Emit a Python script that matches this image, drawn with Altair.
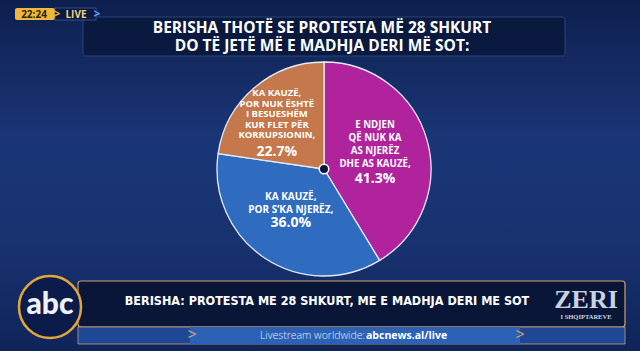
import altair as alt
import pandas as pd

W, H = 640, 351
CX, CY, R = 324, 169, 107

# ---- data ----
categories = [
    "E NDJEN QË NUK KA AS NJERËZ DHE AS KAUZË",
    "KA KAUZË, POR S’KA NJERËZ",
    "KA KAUZË, POR NUK ËSHTË I BESUESHËM KUR FLET PËR KORRUPSIONIN",
]
label_lines = [
    "E NDJEN\nQË NUK KA\nAS NJERËZ\nDHE AS KAUZË,",
    "KA KAUZË,\nPOR S’KA NJERËZ,",
    "KA KAUZË,\nPOR NUK ËSHTË\nI BESUESHËM\nKUR FLET PËR\nKORRUPSIONIN,",
]
values = [41.3, 36.0, 22.7]
colors = ["#b1239d", "#2f6bbf", "#c5784b"]

title_lines = ["BERISHA THOTË SE PROTESTA MË 28 SHKURT", "DO TË JETË MË E MADHJA DERI MË SOT:"]
banner_text = "BERISHA: PROTESTA ME 28 SHKURT, ME E MADHJA DERI ME SOT"

df = pd.DataFrame({
    "cat": categories,
    "label": label_lines,
    "value": values,
    "order": list(range(len(values))),
})
df["pct"] = [f"{v:.1f}%" for v in values]
one = pd.DataFrame({"k": [0]})

FONT = "Open Sans"


def rect(x, x2, y, y2, **kw):
    return alt.Chart(one).mark_rect(**kw).encode(
        x=alt.value(x), x2=alt.value(x2), y=alt.value(y), y2=alt.value(y2))


def txt(s, x, y, **kw):
    return alt.Chart(one).mark_text(text=s, **kw).encode(x=alt.value(x), y=alt.value(y))


# ---- background ----
bg = rect(0, W, 0, H, fill=alt.LinearGradient(
    gradient="linear", x1=0, y1=0, x2=0, y2=1,
    stops=[alt.GradientStop(color="#0d1f4e", offset=0),
           alt.GradientStop(color="#1b3677", offset=0.4),
           alt.GradientStop(color="#18326f", offset=0.7),
           alt.GradientStop(color="#0f2459", offset=1)]))

# ---- title box ----
title_box = rect(83, 565, 17, 56, fill="#0a183c", fillOpacity=0.9,
                 stroke="#2b4478", strokeWidth=1, cornerRadius=2)
title1 = txt(title_lines[0], 322, 27.5, font=FONT, fontSize=15.5, fontWeight="bold",
             color="white", align="center", baseline="middle")
title2 = txt(title_lines[1], 322, 45.5, font=FONT, fontSize=15.5, fontWeight="bold",
             color="white", align="center", baseline="middle")

# ---- live badge ----
badge_y = rect(15, 55, 8, 20, fill="#f0b73a", cornerRadius=2)
badge_t = txt("22:24", 34, 14.5, font=FONT, fontSize=10, fontWeight="bold",
              color="#2b2208", align="center", baseline="middle")
badge_d = rect(55, 96, 8, 20, fill="#0c1a42", stroke="#3a5a9a", strokeWidth=0.8)
badge_c1 = txt(">", 57, 14, font=FONT, fontSize=12, fontWeight="bold",
               color="#f0b73a", align="center", baseline="middle")
badge_l = txt("LIVE", 76, 14.5, font=FONT, fontSize=10, fontWeight="bold",
              color="#f2d27a", align="center", baseline="middle")
badge_c2 = txt(">", 97, 14, font=FONT, fontSize=12, fontWeight="bold",
               color="#5fa0ff", align="center", baseline="middle")

# ---- pie ----
theta = alt.Theta("value:Q", stack=True)
order = alt.Order("order:Q")
pie = alt.Chart(df).mark_arc(outerRadius=R, stroke="#e2ebf8", strokeWidth=1.3).encode(
    theta=theta,
    color=alt.Color("cat:N", scale=alt.Scale(domain=categories, range=colors), legend=None),
    order=order,
    x=alt.value(CX), y=alt.value(CY),
)
center_dot = alt.Chart(one).mark_circle(size=90, fill="#0b1640", opacity=1,
                                         stroke="white", strokeWidth=1.5).encode(
    x=alt.value(CX), y=alt.value(CY))


def slice_label(i, r, dx, dy_desc, dy_pct, size, lh):
    base = alt.Chart(df).transform_calculate(
        t=f"datum.order == {i} ? datum.label : ''",
        p=f"datum.order == {i} ? datum.pct : ''",
    )
    enc = dict(theta=theta, order=order, radius=alt.value(r), x=alt.value(CX), y=alt.value(CY))
    desc = base.mark_text(font=FONT, fontSize=size, fontWeight="bold", color="white",
                          lineBreak="\n", lineHeight=lh, align="center", baseline="middle",
                          dx=dx, dy=dy_desc).encode(text="t:N", **enc)
    pct = base.mark_text(font=FONT, fontSize=14, fontWeight="bold", color="white",
                         align="center", baseline="middle", dx=dx, dy=dy_pct).encode(text="p:N", **enc)
    return [desc, pct]


labels = (slice_label(0, 53, 0, -30, 24, 9.7, 13)
          + slice_label(1, 53, -4, -16, 10, 10, 12.5)
          + slice_label(2, 66, -4, -26, 33, 9.5, 10.5))

# ---- lower third ----
ban_dark = rect(78, 625, 281, 327, fill="#0a1638", stroke="#c9a071", strokeWidth=1.2, cornerRadius=3)
ban_strip = rect(78, 625, 327, 344, fill="#1e4795", stroke="#c9a071", strokeWidth=0.8)
ban_mid = rect(190, 520, 327, 344, fill="#2c62b6")
chev1 = txt(">", 192, 335, font=FONT, fontSize=16, color="#d9a26a", align="center", baseline="middle")
chev2 = txt(">", 520, 335, font=FONT, fontSize=16, color="#d9a26a", align="center", baseline="middle")
ban_text = txt(banner_text, 327, 301, font="DejaVu Sans Condensed", fontSize=12.5, fontWeight="bold",
               color="white", align="center", baseline="middle")
live1 = txt("Livestream worldwide: ", 365, 336, font=FONT, fontSize=10.5, fontWeight=300,
            color="#e3e9f6", align="right", baseline="middle")
live2 = txt("abcnews.al/live", 366, 336, font=FONT, fontSize=10.5, fontWeight="bold",
            color="white", align="left", baseline="middle")
logo = alt.Chart(one).mark_circle(size=3850, fill="#0b1b4a", opacity=1,
                                  stroke="#e3a63a", strokeWidth=2.5).encode(
    x=alt.value(50), y=alt.value(307))
logo_t = txt("abc", 50, 305, font="Lato", fontSize=30, fontWeight=900,
             color="#eef2f8", align="center", baseline="middle")
zeri = txt("ZERI", 586, 300, font="Liberation Serif", fontSize=26, fontWeight="bold",
           color="#c9d3e2", align="center", baseline="middle")
zeri2 = txt("I SHQIPTAREVE", 586, 317, font="Liberation Serif", fontSize=6.5, fontWeight="bold",
            color="#c9d3e2", align="center", baseline="middle")

chart = alt.layer(
    bg, title_box, title1, title2,
    badge_y, badge_t, badge_d, badge_c1, badge_l, badge_c2,
    pie, center_dot, *labels,
    ban_dark, ban_strip, ban_mid, chev1, chev2, ban_text, live1, live2,
    logo, logo_t, zeri, zeri2,
).properties(
    width=W, height=H,
    autosize=alt.AutoSizeParams(type="none"),
    padding=0,
    background="#142b66",
).configure_view(stroke=None)

chart.save("out.html", embed_options={"renderer": "svg", "actions": False})
